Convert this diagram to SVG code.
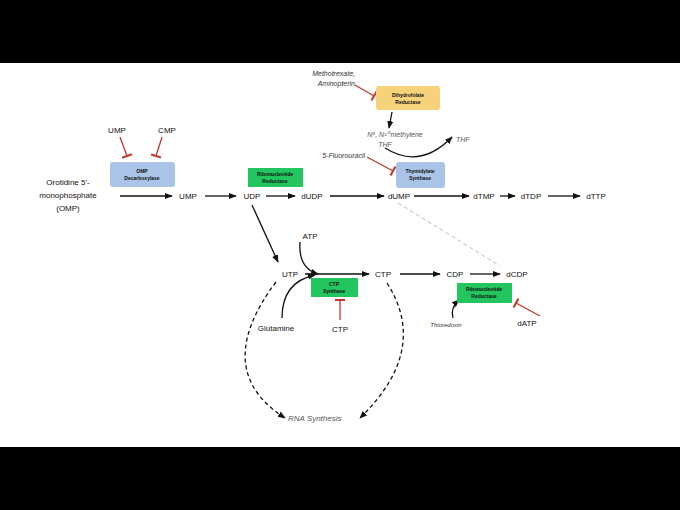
<svg xmlns="http://www.w3.org/2000/svg" width="680" height="510" viewBox="0 0 680 510">
<defs>
<marker id="ah" viewBox="0 0 10 10" refX="9" refY="5" markerWidth="6" markerHeight="6" orient="auto"><path d="M0,1 L10,5 L0,9 z" fill="#111"/></marker>
<marker id="tb" viewBox="0 0 10 10" refX="5" refY="5" markerWidth="8" markerHeight="8" orient="auto"><path d="M5,0 L5,10" stroke="#c0392b" stroke-width="2"/></marker>
</defs>
<style>
text{font-family:"Liberation Sans",Arial,sans-serif;fill:#111;font-size:8px}
.m{text-anchor:middle}
.it{font-style:italic;fill:#555;font-size:7px}
.sm{font-size:5px;font-weight:bold;text-anchor:middle}
.a{stroke:#111;stroke-width:1.3;fill:none;marker-end:url(#ah)}
.d{stroke-dasharray:4,3}
.r{stroke:#c0392b;stroke-width:1.3;fill:none;marker-end:url(#tb)}
.blue{fill:#a9c4e6}
.green{fill:#22c55e}
.yel{fill:#f6d27a}
</style>
<rect width="680" height="510" fill="#fff"/>
<rect width="680" height="63" fill="#000"/>
<rect y="447" width="680" height="63" fill="#000"/>
<g id="connectors">
<path class="a" d="M120,196 L172,196"/>
<path class="a" d="M205,196 L236,196"/>
<path class="a" d="M266,196 L295,196"/>
<path class="a" d="M330,196 L384,196"/>
<path class="a" d="M414,196 L469,196"/>
<path class="a" d="M500,196 L515,196"/>
<path class="a" d="M548,196 L580,196"/>
<path class="r" d="M120,137 L127,156"/>
<path class="r" d="M162,137 L156,156"/>
<path class="r" d="M355,85 L374,96"/>
<path class="r" d="M367,157 L393,171"/>
<path class="a" d="M392,112 L389,128"/>
<path class="a" d="M385,148 Q420,170 452,137"/>
<path d="M398,203 L500,266" stroke="#bbb" stroke-width="1" stroke-dasharray="4,3" fill="none"/>
<path class="a" d="M252,205 L278,262"/>
<path class="a" d="M300,242 Q298,268 318,274"/>
<path class="a" d="M305,274 L369,274"/>
<path class="a" d="M282,318 Q282,282 315,275"/>
<path class="r" d="M340,320 L340,300"/>
<path class="a" d="M400,274 L440,274"/>
<path class="a" d="M470,274 L500,274"/>
<path class="a" d="M453,318 Q450,308 459,300"/>
<path class="r" d="M540,316 L516,303"/>
<path class="a d" d="M276,282 Q210,370 285,418"/>
<path class="a d" d="M387,283 Q430,350 360,418"/>
</g>
<g id="omp"><text class="m" x="68" y="185">Orotidine 5'-</text><text class="m" x="68" y="198">monophosphate</text><text class="m" x="68" y="211">(OMP)</text></g>
<g id="ump"><text class="m" x="188" y="199">UMP</text></g>
<g id="udp"><text class="m" x="252" y="199">UDP</text></g>
<g id="dudp"><text class="m" x="312" y="199">dUDP</text></g>
<g id="dump"><text class="m" x="399" y="199">dUMP</text></g>
<g id="dtmp"><text class="m" x="484" y="199">dTMP</text></g>
<g id="dtdp"><text class="m" x="531" y="199">dTDP</text></g>
<g id="dttp"><text class="m" x="596" y="199">dTTP</text></g>
<g id="ump-i"><text class="m" x="117" y="133">UMP</text></g>
<g id="cmp-i"><text class="m" x="167" y="133">CMP</text></g>
<g id="ompdc"><rect class="blue" x="110" y="162" width="65" height="25" rx="3"/><text class="sm" x="142" y="173">OMP</text><text class="sm" x="142" y="180">Decarboxylase</text></g>
<g id="rnr1"><rect class="green" x="248" y="168" width="55" height="19"/><text class="sm" x="275" y="176">Ribonucleotide</text><text class="sm" x="275" y="183">Reductase</text></g>
<g id="mtx"><text class="it" x="355" y="76" text-anchor="end" style="fill:#333">Methotrexate,</text><text class="it" x="355" y="86" text-anchor="end" style="fill:#333">Aminopterin</text></g>
<g id="dhfr"><rect class="yel" x="376" y="86" width="64" height="24" rx="3"/><text class="sm" x="408" y="97">Dihydrofolate</text><text class="sm" x="408" y="104">Reductase</text></g>
<g id="mthf"><text class="it m" x="395" y="137">N⁵, N¹⁰ methylene</text><text class="it m" x="385" y="147">THF</text></g>
<g id="thf"><text class="it" x="456" y="142">THF</text></g>
<g id="fu"><text class="it" x="365" y="158" text-anchor="end" style="fill:#333">5-Fluorouracil</text></g>
<g id="ts"><rect class="blue" x="396" y="162" width="49" height="26" rx="3"/><text class="sm" x="420" y="173">Thymidylate</text><text class="sm" x="420" y="180">Synthase</text></g>
<g id="utp"><text class="m" x="290" y="277">UTP</text></g>
<g id="atp"><text class="m" x="310" y="239">ATP</text></g>
<g id="ctp"><text class="m" x="383" y="277">CTP</text></g>
<g id="ctps"><rect class="green" x="311" y="278" width="47" height="19"/><text class="sm" x="334" y="286">CTP</text><text class="sm" x="334" y="293">Synthase</text></g>
<g id="ctp-i"><text class="m" x="340" y="332">CTP</text></g>
<g id="gln"><text class="m" x="276" y="331">Glutamine</text></g>
<g id="cdp"><text class="m" x="455" y="277">CDP</text></g>
<g id="dcdp"><text class="m" x="517" y="277">dCDP</text></g>
<g id="rnr2"><rect class="green" x="457" y="283" width="55" height="20"/><text class="sm" x="484" y="291">Ribonucleotide</text><text class="sm" x="484" y="298">Reductase</text></g>
<g id="trx"><text class="it m" x="446" y="327" style="fill:#333;font-size:6px">Thioredoxin</text></g>
<g id="datp"><text class="m" x="527" y="326">dATP</text></g>
<g id="rna"><text class="it" x="288" y="421" style="font-size:8px">RNA Synthesis</text></g>
</svg>
